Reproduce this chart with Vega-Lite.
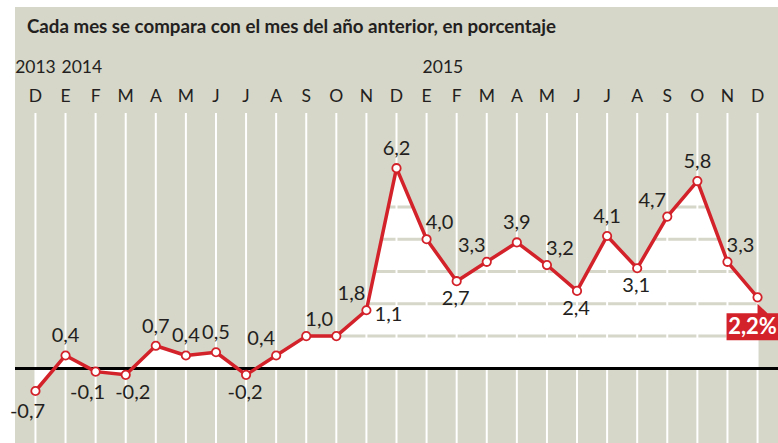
{
  "$schema": "https://vega.github.io/schema/vega-lite/v6.json",
  "width": 763,
  "height": 436,
  "autosize": {"type": "none"},
  "padding": {"left": 15, "top": 7, "right": 0, "bottom": 0},
  "background": "#ffffff",
  "config": {"view": {"fill": "#d6d6c9", "stroke": null}, "font": "Lato"},
  "title": {
    "text": "Cada mes se compara con el mes del año anterior, en porcentaje",
    "anchor": "start",
    "frame": "group",
    "offset": -30,
    "dx": 12,
    "fontSize": 18.7,
    "font": "Lato",
    "fontWeight": "bold",
    "color": "#231f20"
  },
  "datasets": {
    "serie": [
      {"fecha": "2013-12", "letra": "D", "anio": "2013", "valor": -0.7, "etiqueta": "-0,7"},
      {"fecha": "2014-01", "letra": "E", "anio": "2014", "valor": 0.4, "etiqueta": "0,4"},
      {"fecha": "2014-02", "letra": "F", "valor": -0.1, "etiqueta": "-0,1"},
      {"fecha": "2014-03", "letra": "M", "valor": -0.2, "etiqueta": "-0,2"},
      {"fecha": "2014-04", "letra": "A", "valor": 0.7, "etiqueta": "0,7"},
      {"fecha": "2014-05", "letra": "M", "valor": 0.4, "etiqueta": "0,4"},
      {"fecha": "2014-06", "letra": "J", "valor": 0.5, "etiqueta": "0,5"},
      {"fecha": "2014-07", "letra": "J", "valor": -0.2, "etiqueta": "-0,2"},
      {"fecha": "2014-08", "letra": "A", "valor": 0.4, "etiqueta": "0,4"},
      {"fecha": "2014-09", "letra": "S", "valor": 1.0, "etiqueta": "1,0"},
      {"fecha": "2014-10", "letra": "O", "valor": 1.0},
      {"fecha": "2014-11", "letra": "N", "valor": 1.8, "etiqueta": "1,8", "nota": "1,1"},
      {"fecha": "2014-12", "letra": "D", "valor": 6.2, "etiqueta": "6,2"},
      {"fecha": "2015-01", "letra": "E", "anio": "2015", "valor": 4.0, "etiqueta": "4,0"},
      {"fecha": "2015-02", "letra": "F", "valor": 2.7, "etiqueta": "2,7"},
      {"fecha": "2015-03", "letra": "M", "valor": 3.3, "etiqueta": "3,3"},
      {"fecha": "2015-04", "letra": "A", "valor": 3.9, "etiqueta": "3,9"},
      {"fecha": "2015-05", "letra": "M", "valor": 3.2, "etiqueta": "3,2"},
      {"fecha": "2015-06", "letra": "J", "valor": 2.4, "etiqueta": "2,4"},
      {"fecha": "2015-07", "letra": "J", "valor": 4.1, "etiqueta": "4,1"},
      {"fecha": "2015-08", "letra": "A", "valor": 3.1, "etiqueta": "3,1"},
      {"fecha": "2015-09", "letra": "S", "valor": 4.7, "etiqueta": "4,7"},
      {"fecha": "2015-10", "letra": "O", "valor": 5.8, "etiqueta": "5,8"},
      {"fecha": "2015-11", "letra": "N", "valor": 3.3, "etiqueta": "3,3"},
      {"fecha": "2015-12", "letra": "D", "valor": 2.2, "etiqueta": "2,2%"}
    ],
    "niveles": [
      {"nivel": 1}, {"nivel": 2}, {"nivel": 3}, {"nivel": 4}, {"nivel": 5}, {"nivel": 6}
    ]
  },
  "data": {"name": "serie"},
  "layer": [
    {
      "mark": {"type": "area", "color": "#ffffff", "opacity": 1},
      "encoding": {
        "x": {"field": "fecha", "type": "ordinal", "sort": null, "scale": {"type": "point", "padding": 0.68}, "axis": null},
        "y": {"field": "valor", "type": "quantitative", "scale": {"domain": [-2.31, 11.19], "nice": false, "zero": false}, "axis": null},
        "y2": {"datum": 0}
      }
    },
    {
      "data": {"name": "niveles"},
      "mark": {"type": "rule", "color": "#d6d6c9", "strokeWidth": 3},
      "encoding": {
        "y": {"field": "nivel", "type": "quantitative"}
      }
    },
    {
      "mark": {"type": "rule", "color": "#ffffff", "strokeWidth": 2},
      "encoding": {
        "x": {"field": "fecha", "type": "ordinal", "sort": null},
        "y": {"datum": 7.91},
        "y2": {"datum": -2.31}
      }
    },
    {
      "mark": {"type": "rule", "color": "#000000", "strokeWidth": 2.5},
      "encoding": {"y": {"datum": 0}}
    },
    {
      "mark": {"type": "line", "color": "#d3222a", "strokeWidth": 3.5, "strokeJoin": "round"},
      "encoding": {
        "x": {"field": "fecha", "type": "ordinal", "sort": null},
        "y": {"field": "valor", "type": "quantitative"}
      }
    },
    {
      "mark": {"type": "point", "shape": "circle", "filled": true, "fill": "#ffffff", "stroke": "#d3222a", "strokeWidth": 1.8, "size": 70, "opacity": 1},
      "encoding": {
        "x": {"field": "fecha", "type": "ordinal", "sort": null},
        "y": {"field": "valor", "type": "quantitative"}
      }
    },
    {
      "transform": [{"filter": "datum.fecha == '2015-12'"}],
      "mark": {"type": "point", "shape": "M-0.62,0.32 L0,0.32 L0,0.13 L0.2,0.32 L0.42,0.32 L0.42,0.86 L-0.62,0.86 Z", "filled": true, "fill": "#d3222a", "strokeWidth": 0, "size": 10000, "opacity": 1},
      "encoding": {
        "x": {"field": "fecha", "type": "ordinal", "sort": null},
        "y": {"field": "valor", "type": "quantitative"}
      }
    },
    {
      "transform": [{"filter": "datum.fecha == '2015-12'"}],
      "mark": {"type": "text", "color": "#ffffff", "fontWeight": "bold", "fontSize": 22, "font": "Lato", "dx": -5, "dy": 30, "align": "center", "baseline": "middle"},
      "encoding": {
        "x": {"field": "fecha", "type": "ordinal", "sort": null},
        "y": {"field": "valor", "type": "quantitative"},
        "text": {"field": "etiqueta"}
      }
    },
    {
      "transform": [{"filter": {"field": "fecha", "oneOf": ["2014-01", "2014-04", "2014-05", "2014-06", "2014-12", "2015-04", "2015-07", "2015-10"]}}],
      "mark": {"type": "text", "color": "#231f20", "fontSize": 20, "dy": -19, "align": "center", "baseline": "middle"},
      "encoding": {
        "x": {"field": "fecha", "type": "ordinal", "sort": null},
        "y": {"field": "valor", "type": "quantitative"},
        "text": {"field": "etiqueta"}
      }
    },
    {
      "transform": [{"filter": {"field": "fecha", "oneOf": ["2014-07", "2015-02", "2015-06", "2015-08"]}}],
      "mark": {"type": "text", "color": "#231f20", "fontSize": 20, "dx": -1, "dy": 18, "align": "center", "baseline": "middle"},
      "encoding": {
        "x": {"field": "fecha", "type": "ordinal", "sort": null},
        "y": {"field": "valor", "type": "quantitative"},
        "text": {"field": "etiqueta"}
      }
    },
    {
      "transform": [{"filter": {"field": "fecha", "oneOf": ["2013-12", "2014-02"]}}],
      "mark": {"type": "text", "color": "#231f20", "fontSize": 20, "dx": -8, "dy": 21, "align": "center", "baseline": "middle"},
      "encoding": {
        "x": {"field": "fecha", "type": "ordinal", "sort": null},
        "y": {"field": "valor", "type": "quantitative"},
        "text": {"field": "etiqueta"}
      }
    },
    {
      "transform": [{"filter": {"field": "fecha", "oneOf": ["2014-03"]}}],
      "mark": {"type": "text", "color": "#231f20", "fontSize": 20, "dx": 7, "dy": 18, "align": "center", "baseline": "middle"},
      "encoding": {
        "x": {"field": "fecha", "type": "ordinal", "sort": null},
        "y": {"field": "valor", "type": "quantitative"},
        "text": {"field": "etiqueta"}
      }
    },
    {
      "transform": [{"filter": {"field": "fecha", "oneOf": ["2014-08", "2014-11", "2015-03", "2015-09"]}}],
      "mark": {"type": "text", "color": "#231f20", "fontSize": 20, "dx": -15, "dy": -16, "align": "center", "baseline": "middle"},
      "encoding": {
        "x": {"field": "fecha", "type": "ordinal", "sort": null},
        "y": {"field": "valor", "type": "quantitative"},
        "text": {"field": "etiqueta"}
      }
    },
    {
      "transform": [{"filter": {"field": "fecha", "oneOf": ["2014-09", "2015-01", "2015-05", "2015-11"]}}],
      "mark": {"type": "text", "color": "#231f20", "fontSize": 20, "dx": 13, "dy": -16, "align": "center", "baseline": "middle"},
      "encoding": {
        "x": {"field": "fecha", "type": "ordinal", "sort": null},
        "y": {"field": "valor", "type": "quantitative"},
        "text": {"field": "etiqueta"}
      }
    },
    {
      "transform": [{"filter": "isValid(datum.nota)"}],
      "mark": {"type": "text", "color": "#231f20", "fontSize": 20, "dx": 22, "dy": 5, "align": "center", "baseline": "middle"},
      "encoding": {
        "x": {"field": "fecha", "type": "ordinal", "sort": null},
        "y": {"field": "valor", "type": "quantitative"},
        "text": {"field": "nota"}
      }
    },
    {
      "mark": {"type": "text", "color": "#231f20", "fontSize": 17.5, "align": "center", "baseline": "middle"},
      "encoding": {
        "x": {"field": "fecha", "type": "ordinal", "sort": null},
        "y": {"datum": 8.41},
        "text": {"field": "letra"}
      }
    },
    {
      "transform": [{"filter": "datum.fecha == '2013-12'"}],
      "mark": {"type": "text", "color": "#231f20", "fontSize": 17.5, "align": "center", "baseline": "middle"},
      "encoding": {
        "x": {"field": "fecha", "type": "ordinal", "sort": null},
        "y": {"datum": 9.3},
        "text": {"field": "anio"}
      }
    },
    {
      "transform": [{"filter": {"field": "fecha", "oneOf": ["2014-01", "2015-01"]}}],
      "mark": {"type": "text", "color": "#231f20", "fontSize": 17.5, "align": "left", "dx": -4, "baseline": "middle"},
      "encoding": {
        "x": {"field": "fecha", "type": "ordinal", "sort": null},
        "y": {"datum": 9.3},
        "text": {"field": "anio"}
      }
    }
  ]
}
